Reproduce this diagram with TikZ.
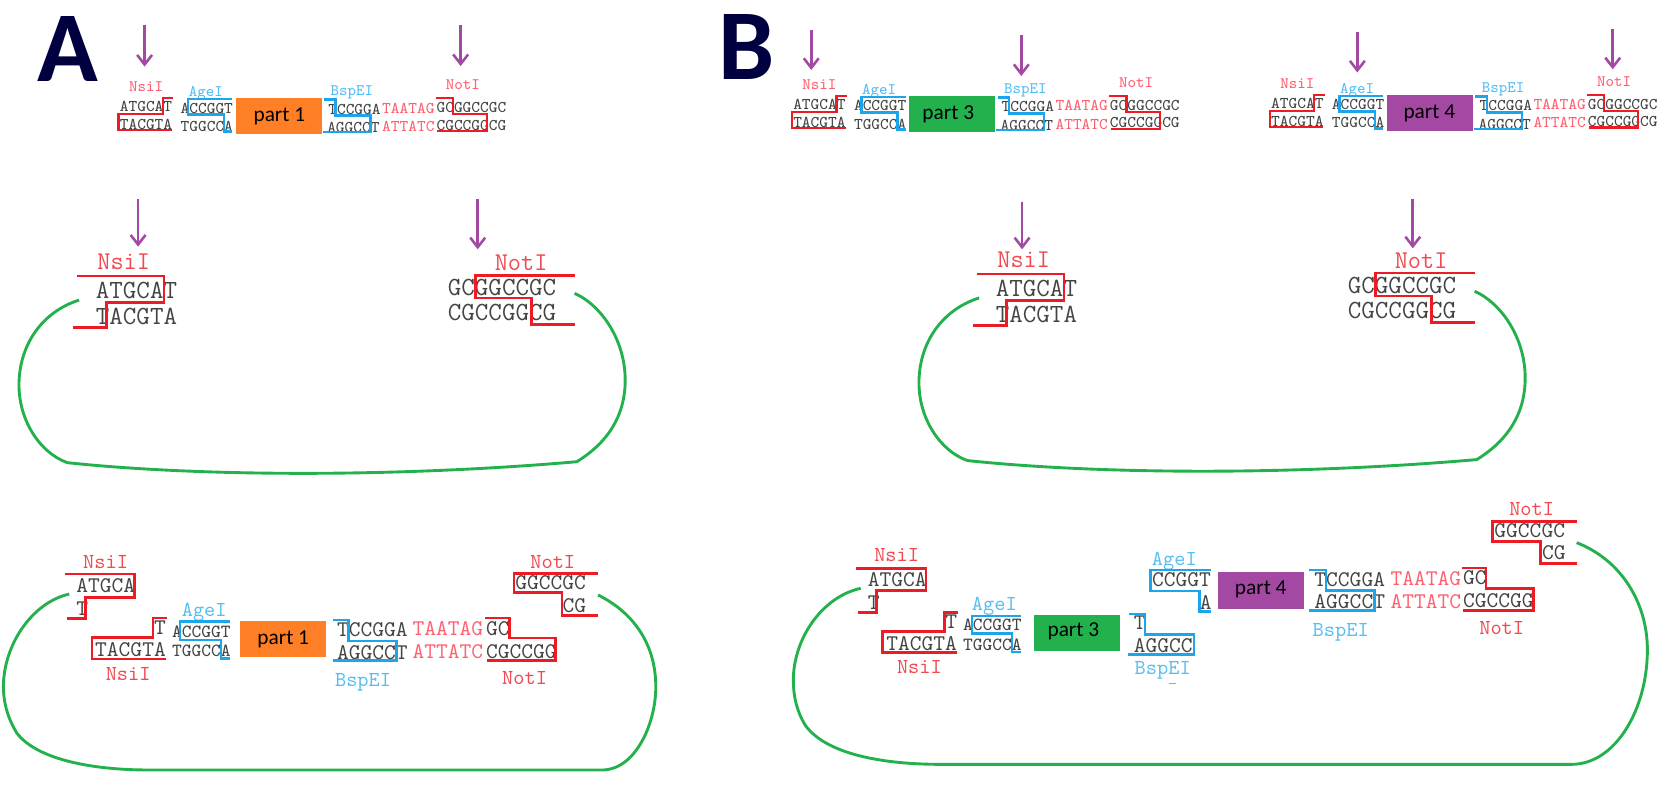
\documentclass[tikz,border=0pt]{standalone}
\usepackage{fontspec}
\usetikzlibrary{arrows.meta}
\newfontfamily\calfont{Carlito}
\definecolor{nred}{HTML}{ED1C24}
\definecolor{nblue}{HTML}{1DA5EC}
\definecolor{ngreen}{HTML}{22B14C}
\definecolor{npurple}{HTML}{A349A4}
\definecolor{norange}{HTML}{FF7F27}
\definecolor{nnavy}{HTML}{000040}
\definecolor{lred}{HTML}{FF6070}
\definecolor{lblue}{HTML}{55BEF5}
\definecolor{dna}{HTML}{444444}
\newcounter{tn}
\newcommand\tx[3]{\stepcounter{tn}\node[#1] (t\thetn) at (#2) {#3};}
\newcommand\parrow[3]{\stepcounter{tn}\coordinate (p\thetn) at (#1,#2);\coordinate (q\thetn) at (#1,#3);\draw[parr] (p\thetn) -- (q\thetn);}
\newcommand\pbox[4]{\stepcounter{tn}\node[partbox,fill=#2] (b\thetn) at (#1) {};\node[parttext] (l\thetn) at (#3) {#4};}
\tikzset{
  txt/.style={inner sep=0pt,text depth=0pt,text height=0.6em,text=dna},
  sseq/.style={txt,anchor=west,font=\fontsize{7.7}{8}\ttfamily\selectfont},
  aseq/.style={txt,anchor=west,font=\fontsize{8.7}{9}\ttfamily\selectfont},
  mseq/.style={txt,anchor=west,font=\fontsize{10.5}{11}\ttfamily\selectfont},
  lseq/.style={txt,anchor=west,font=\fontsize{12.3}{13}\ttfamily\selectfont},
  slab/.style={txt,anchor=center,font=\fontsize{7.5}{8}\ttfamily\selectfont},
  mlab/.style={txt,anchor=center,font=\fontsize{10}{11}\ttfamily\selectfont},
  llab/.style={txt,anchor=center,font=\fontsize{12}{13}\ttfamily\selectfont},
  sred/.style={text=lred},
  mred/.style={text=nred!80!white},
  sblue/.style={text=lblue},
  redl/.style={draw=nred,line width=1.2pt,miter limit=10},
  bluel/.style={draw=nblue,line width=1.15pt},
  greenl/.style={draw=ngreen,line width=1.35pt},
  parr/.style={draw=npurple,line width=1.3pt,-{Straight Barb[length=4.5pt,width=7pt,line width=1.2pt]}},
  partbox/.style={minimum width=40.5pt,minimum height=17pt,inner sep=0pt,draw=none},
  parttext/.style={inner sep=0pt,text=black,font=\fontsize{10}{11}\calfont\selectfont},
  biglet/.style={inner sep=0pt,text=nnavy,font=\fontsize{47}{48}\calfont\bfseries\selectfont}
}
% top construct, in the coordinates of panel A
\newcommand\topunit[3]{%
  \tx{slab,sred}{137,80}{NsiI}
  \tx{slab,sblue}{193,84.4}{AgeI}
  \tx{slab,sblue}{330,84}{BspEI}
  \tx{slab,sred}{434,78}{NotI}
  \tx{sseq}{112,98.8}{ATGCAT}
  \tx{sseq}{112,115.6}{TACGTA}
  \tx{sseq}{169,100}{ACCGGT}
  \tx{sseq}{169,117}{TGGCCA}
  \tx{sseq}{307.5,101}{TCCGGA}
  \tx{sseq}{306.5,118}{AGGCCT}
  \tx{sseq,sred}{358,100}{TAATAG}
  \tx{sseq,sred}{358,117}{ATTATC}
  \tx{sseq}{409,99.5}{GCGGCCGC}
  \tx{sseq}{409,116}{CGCCGGCG}
  \pbox{261.5,108.75}{#1}{#2,109}{#3}
  \draw[redl] (162.4,91.9) -- (152.7,91.9) -- (152.7,106.9) -- (111.2,106.9) -- (111.2,121.9) -- (161.4,121.9);
  \draw[bluel] (217.7,92.8) -- (176.5,92.8) -- (176.5,107.5) -- (210,107.5) -- (210,123.4) -- (217.7,123.4);
  \draw[bluel] (304,93.4) -- (314.8,93.4) -- (314.8,108.4) -- (347.6,108.4) -- (347.6,123.8) -- (303,123.8);
  \draw[redl] (408.6,91.9) -- (424.7,91.9) -- (424.7,106.9) -- (456.5,106.9) -- (456.5,122.8) -- (410.2,122.8);
}
% middle cut vector, in the coordinates of panel A
\newcommand\midunit{%
  \tx{llab,mred}{116,246.5}{NsiI}
  \tx{llab,mred}{488.7,247.5}{NotI}
  \tx{lseq}{89.6,274}{ATGCAT}
  \tx{lseq}{89.6,298.5}{TACGTA}
  \tx{lseq}{419.7,271}{GCGGCCGC}
  \tx{lseq}{419.7,295}{CGCCGGCG}
  \draw[redl] (71.9,258.9) -- (154,258.9) -- (154,283.9) -- (99.9,283.9) -- (99.9,307.3) -- (68.7,307.3);
  \draw[redl] (538.9,258.2) -- (446.1,258.2) -- (446.1,279.5) -- (498.6,279.5) -- (498.6,304.5) -- (538.9,304.5);
  \draw[greenl] (74.2,281.4) .. controls (38,293) and (17.8,325) .. (17.8,361) .. controls (17.8,395) and (38,425) .. (63.2,433.9) .. controls (130,441) and (210,443.9) .. (284.2,443.9) .. controls (370,443.9) and (460,440) .. (540.9,433) .. controls (570,415) and (586.3,390) .. (586.3,356.4) .. controls (586.3,320) and (565,287) .. (538.9,275.1);
}
\begin{document}
\begin{tikzpicture}[x=0.5pt,y=-0.5pt]
\useasboundingbox (0,0) rectangle (1568,737);
\tx{biglet}{64,46}{A}
\tx{biglet}{700,44}{B}
% ---------- top row
\topunit{norange}{262}{part 1}
\begin{scope}[shift={(631.5,-2)}]
  \topunit{ngreen}{257.8}{part 3}
\end{scope}
\begin{scope}[shift={(1079.7,-3)}]
  \topunit{npurple}{260.7}{part 4}
\end{scope}
\parrow{135.6}{23.4}{62.5}
\parrow{432}{23.4}{62}
\parrow{760.8}{28}{65.6}
\parrow{957.8}{33}{71.3}
\parrow{1272.9}{30.3}{68}
\parrow{1512.4}{27}{65}
% ---------- middle row
\midunit
\begin{scope}[shift={(844,-2)}]
  \midunit
\end{scope}
\parrow{129.5}{186.6}{231.3}
\parrow{448}{186.6}{233.8}
\parrow{958.5}{189}{233.8}
\parrow{1324.9}{186.6}{232.9}
% ---------- bottom A
\tx{mlab,mred}{99,526.8}{NsiI}
\tx{mseq}{71.3,549.6}{ATGCA}
\tx{mseq}{71.3,571.2}{T}
\draw[redl] (60.9,538.3) -- (126.2,538.3) -- (126.2,560.2) -- (80.1,560.2) -- (80.1,580.2) -- (62.9,580.2);
\tx{mseq}{144.2,588.7}{T}
\tx{mseq}{88.9,609.6}{TACGTA}
\draw[redl] (156.3,579.6) -- (143.4,579.6) -- (143.4,598) -- (86.1,598) -- (86.1,618) -- (155.4,618);
\tx{mlab,mred}{120.2,632.1}{NsiI}
\tx{mlab,sblue}{191.5,572.1}{AgeI}
\tx{aseq}{161,591.5}{ACCGGT}
\tx{aseq}{161,609.6}{TGGCCA}
\draw[bluel] (215.5,583) -- (169,583) -- (169,600.2) -- (207.1,600.2) -- (207.1,617.7) -- (215.5,617.7);
\pbox{265.5,599.3}{norange}{265.6,599.3}{part 1}
\tx{mseq}{315.7,590.9}{TCCGGA}
\tx{mseq}{315.7,612.1}{AGGCCT}
\draw[bluel] (312.5,581.5) -- (326.9,581.5) -- (326.9,600.9) -- (371.8,600.9) -- (371.8,619.6) -- (312.5,619.6);
\tx{mlab,sblue}{340.5,637.7}{BspEI}
\tx{mseq,sred}{386.6,590.2}{TAATAG}
\tx{mseq,sred}{386.6,611.5}{ATTATC}
\tx{mseq}{455.5,589.6}{GC}
\tx{mseq}{455.5,611.2}{CGCCGG}
\draw[redl] (454.7,579.6) -- (477.6,579.6) -- (477.6,598.4) -- (520.8,598.4) -- (520.8,619.6) -- (456.7,619.6);
\tx{mlab,mred}{492,635.6}{NotI}
\tx{mlab,mred}{518.4,526.8}{NotI}
\tx{mseq}{482.8,547}{GGCCGC}
\tx{mseq}{527.2,568.3}{CG}
\draw[redl] (560.9,537.7) -- (482,537.7) -- (482,555.8) -- (526.9,555.8) -- (526.9,577.4) -- (560.9,577.4);
\draw[greenl] (64.9,557.1) .. controls (30,565) and (3.2,605) .. (3.2,644) .. controls (3.2,660) and (8,675) .. (16,687.8) .. controls (35,712) and (85,722.1) .. (140.2,722.1) -- (564.9,722.1) .. controls (595,722.1) and (615,680) .. (615,644) .. controls (615,605) and (595,575) .. (560.9,558);
% ---------- bottom B
\tx{mlab,mred}{840.9,520.5}{NsiI}
\tx{mseq}{813.4,543.9}{ATGCA}
\tx{mseq}{813.4,565.8}{T}
\draw[redl] (802.5,533.3) -- (868.4,533.3) -- (868.4,553.9) -- (822.2,553.9) -- (822.2,574.5) -- (805,574.5);
\tx{mseq}{886.2,583}{T}
\tx{mseq}{830.9,603.9}{TACGTA}
\draw[redl] (898.8,574.5) -- (885.6,574.5) -- (885.6,592.4) -- (827.8,592.4) -- (827.8,612) -- (897.2,612);
\tx{mlab,mred}{862.2,625.8}{NsiI}
\tx{mlab,sblue}{932.5,566.4}{AgeI}
\tx{aseq}{902.8,585.5}{ACCGGT}
\tx{aseq}{902.8,604.2}{TGGCCA}
\draw[bluel] (957.2,577.7) -- (911.3,577.7) -- (911.3,593.9) -- (948.8,593.9) -- (948.8,611.4) -- (957.2,611.4);
\pbox{1010,593.6}{ngreen}{1006.6,592.4}{part 3}
\tx{mseq}{1062.9,584.5}{T}
\tx{mseq}{1062.9,605.5}{AGGCC}
\draw[bluel] (1059.1,575.8) -- (1073.8,575.8) -- (1073.8,594.9) -- (1119.8,594.9) -- (1119.8,613.6) -- (1058.2,613.6);
\tx{mlab,sblue}{1090.4,626.7}{BspEI}
\draw[lblue,line width=0.6pt] (1096,640.8) -- (1103,640.8);
\tx{mlab,sblue}{1101.3,524.2}{AgeI}
\tx{mseq}{1080.1,543.9}{CCGGT}
\tx{mseq}{1124.8,565.8}{A}
\draw[bluel] (1135.4,534.8) -- (1079.1,534.8) -- (1079.1,554.2) -- (1124.8,554.2) -- (1124.8,573.6) -- (1135.4,573.6);
\pbox{1182.6,553.7}{npurple}{1182.3,553}{part 4}
\tx{mseq}{1232.3,543.9}{TCCGGA}
\tx{mseq}{1232.3,564.8}{AGGCCT}
\draw[bluel] (1227.9,534.8) -- (1243.5,534.8) -- (1243.5,553.9) -- (1288.9,553.9) -- (1288.9,572.7) -- (1227.9,572.7);
\tx{mlab,sblue}{1257.3,590.8}{BspEI}
\tx{mseq,sred}{1303.6,543.3}{TAATAG}
\tx{mseq,sred}{1303.6,564.2}{ATTATC}
\tx{mseq}{1371.7,542.6}{GC}
\tx{mseq}{1371.7,563.6}{CGCCGG}
\draw[redl] (1370.8,532.6) -- (1393.6,532.6) -- (1393.6,551.7) -- (1438,551.7) -- (1438,572.7) -- (1372.3,572.7);
\tx{mlab,mred}{1408.3,588.6}{NotI}
\tx{mlab,mred}{1436.4,477.6}{NotI}
\tx{mseq}{1401.1,498.3}{GGCCGC}
\tx{mseq}{1445.8,518.9}{CG}
\draw[redl] (1479.3,489.2) -- (1399.8,489.2) -- (1399.8,508) -- (1444.8,508) -- (1444.8,528.6) -- (1479.3,528.6);
\draw[greenl] (807.2,551.7) .. controls (770,560) and (744,600) .. (744,637.7) .. controls (744,655) and (748,668) .. (755,679.9) .. controls (775,708) and (830,716.8) .. (881.6,716.8) -- (1473.9,716.8) .. controls (1515,716.8) and (1544.9,665) .. (1544.9,609.5) .. controls (1544.9,565) and (1520,525) .. (1478.6,508.9);
\end{tikzpicture}
\end{document}
